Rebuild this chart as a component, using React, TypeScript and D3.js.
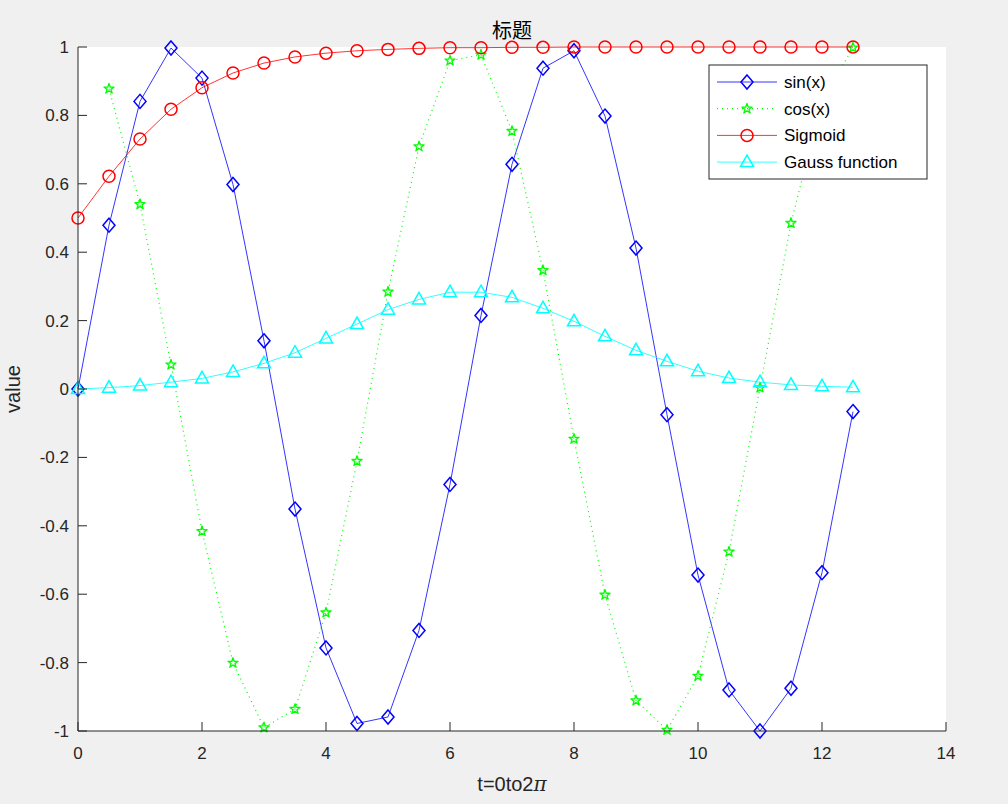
import React from "react";
import * as d3 from "d3";

const tValues = [0, 0.5, 1, 1.5, 2, 2.5, 3, 3.5, 4, 4.5, 5, 5.5, 6, 6.5, 7, 7.5, 8, 8.5, 9, 9.5, 10, 10.5, 11, 11.5, 12, 12.5];
const sinValues = [0, 0.479, 0.841, 0.997, 0.909, 0.598, 0.141, -0.351, -0.757, -0.978, -0.959, -0.706, -0.279, 0.215, 0.657, 0.938, 0.989, 0.798, 0.412, -0.075, -0.544, -0.88, -1.0, -0.875, -0.537, -0.066];
const cosT = [0.5, 1, 1.5, 2, 2.5, 3, 3.5, 4, 4.5, 5, 5.5, 6, 6.5, 7, 7.5, 8, 8.5, 9, 9.5, 10, 10.5, 11, 11.5, 12, 12.5];
const cosValues = [0.878, 0.54, 0.071, -0.416, -0.801, -0.99, -0.936, -0.654, -0.211, 0.284, 0.709, 0.96, 0.977, 0.754, 0.347, -0.146, -0.602, -0.911, -0.997, -0.839, -0.476, 0.004, 0.485, 0.844, 0.998];
const sigmoidValues = [0.5, 0.622, 0.731, 0.818, 0.881, 0.924, 0.953, 0.971, 0.982, 0.989, 0.993, 0.996, 0.998, 0.998, 0.999, 0.999, 1.0, 1.0, 1.0, 1.0, 1.0, 1.0, 1.0, 1.0, 1.0, 1.0];
const gaussValues = [0, 0.004, 0.01, 0.02, 0.031, 0.05, 0.075, 0.106, 0.148, 0.19, 0.232, 0.262, 0.283, 0.283, 0.268, 0.236, 0.198, 0.154, 0.113, 0.081, 0.052, 0.032, 0.02, 0.012, 0.008, 0.005];
const xTicks = [0, 2, 4, 6, 8, 10, 12, 14];
const yTicks = [-1, -0.8, -0.6, -0.4, -0.2, 0, 0.2, 0.4, 0.6, 0.8, 1];
const legendLabels = ["sin(x)", "cos(x)", "Sigmoid", "Gauss function"];

const W = 1008;
const H = 804;
const L = 78, R = 946, T = 47, B = 731;
const FONT = "'Liberation Sans', Arial, Helvetica, sans-serif";
const AX = "#262626";

const x = d3.scaleLinear().domain([0, 14]).range([L, R]);
const y = d3.scaleLinear().domain([-1, 1]).range([B, T]);

const diamond = (cx: number, cy: number) => `M${cx},${cy - 7}L${cx + 6},${cy}L${cx},${cy + 7}L${cx - 6},${cy}Z`;
const triangle = (cx: number, cy: number) => `M${cx},${cy - 7}L${cx + 6.5},${cy + 4.5}L${cx - 6.5},${cy + 4.5}Z`;
const starPath = d3.symbol().type(d3.symbolStar).size(32)() as string;

type Pt = [number, number];
const zip = (xs: number[], ys: number[]): Pt[] => xs.map((v, i) => [v, ys[i]]);
const line = d3.line<Pt>().x((d) => x(d[0])).y((d) => y(d[1]));

const sinPts = zip(tValues, sinValues);
const cosPts = zip(cosT, cosValues);
const sigPts = zip(tValues, sigmoidValues);
const gaussPts = zip(tValues, gaussValues);

function Marker({ kind, cx, cy, color }: { kind: string; cx: number; cy: number; color: string }) {
  if (kind === "diamond") return <path d={diamond(cx, cy)} fill="none" stroke={color} strokeWidth={1.5} />;
  if (kind === "circle") return <circle cx={cx} cy={cy} r={6} fill="none" stroke={color} strokeWidth={1.5} />;
  if (kind === "triangle") return <path d={triangle(cx, cy)} fill="none" stroke={color} strokeWidth={1.5} />;
  return <path d={starPath} transform={`translate(${cx},${cy})`} fill="none" stroke={color} strokeWidth={1.3} strokeLinejoin="round" />;
}

const series = [
  { pts: sinPts, color: "#0000ff", dash: undefined as string | undefined, kind: "diamond" },
  { pts: cosPts, color: "#00ff00", dash: "1,4", kind: "star" },
  { pts: sigPts, color: "#ff0000", dash: undefined, kind: "circle" },
  { pts: gaussPts, color: "#00ffff", dash: undefined, kind: "triangle" },
];

export default function App() {
  const lx = 709, ly = 65, lw = 218, lh = 114;
  return (
    <svg width={W} height={H} style={{ position: "absolute", left: 0, top: 0, background: "#f0f0f0" }} fontFamily={FONT}>
      <rect x={0} y={0} width={W} height={H} fill="#f0f0f0" />
      <rect x={L} y={T} width={R - L} height={B - T} fill="#ffffff" />
      {series.map((s, i) => (
        <g key={i}>
          <path d={line(s.pts) as string} fill="none" stroke={s.color} strokeWidth={s.dash ? 1.2 : 0.8} strokeDasharray={s.dash} />
          {s.pts.map((p, j) => (
            <Marker key={j} kind={s.kind} cx={x(p[0])} cy={y(p[1])} color={s.color} />
          ))}
        </g>
      ))}
      {/* axes */}
      <line x1={L} y1={B} x2={R} y2={B} stroke={AX} strokeWidth={1} />
      <line x1={L} y1={T} x2={L} y2={B} stroke={AX} strokeWidth={1} />
      {xTicks.map((t) => (
        <g key={"x" + t}>
          <line x1={x(t)} x2={x(t)} y1={B} y2={B - 9} stroke={AX} strokeWidth={1} />
          <text x={x(t)} y={B + 28} textAnchor="middle" fontSize={17} fill={AX}>{t}</text>
        </g>
      ))}
      {yTicks.map((t) => (
        <g key={"y" + t}>
          <line x1={L} x2={L + 9} y1={y(t)} y2={y(t)} stroke={AX} strokeWidth={1} />
          <text x={L - 9} y={y(t) + 6} textAnchor="end" fontSize={17} fill={AX}>{t}</text>
        </g>
      ))}
      <text x={(L + R) / 2} y={38} textAnchor="middle" fontSize={20} fill="#000" fontFamily="'Noto Sans CJK SC', sans-serif">标题</text>
      <text x={(L + R) / 2} y={791} textAnchor="middle" fontSize={20} fill={AX}>
        t=0to2<tspan fontStyle="italic" fontFamily="'DejaVu Serif', serif">π</tspan>
      </text>
      <text transform={`translate(20,${(T + B) / 2}) rotate(-90)`} textAnchor="middle" fontSize={20} fill={AX}>value</text>
      {/* legend */}
      <rect x={lx} y={ly} width={lw} height={lh} fill="#ffffff" stroke={AX} strokeWidth={1} />
      {series.map((s, i) => {
        const cy = ly + 17 + i * 26.7;
        return (
          <g key={"lg" + i}>
            <line x1={lx + 8} x2={lx + 68} y1={cy} y2={cy} stroke={s.color} strokeWidth={s.dash ? 1.2 : 0.8} strokeDasharray={s.dash} />
            <Marker kind={s.kind} cx={lx + 38} cy={cy} color={s.color} />
            <text x={lx + 75} y={cy + 6} fontSize={17} fill="#000">{legendLabels[i]}</text>
          </g>
        );
      })}
    </svg>
  );
}
